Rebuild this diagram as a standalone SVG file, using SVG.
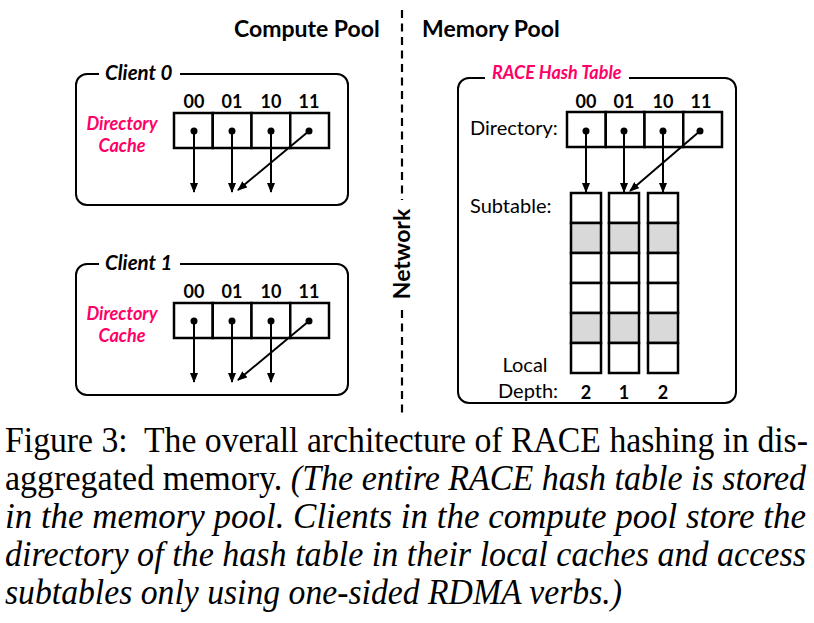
<svg xmlns="http://www.w3.org/2000/svg" width="814" height="623" viewBox="0 0 814 623">
<style>
.box{fill:#fff;stroke:#000;stroke-width:2}
.cell{fill:#fff;stroke:#000;stroke-width:2.5}
.gray{fill:#d9d9d9;stroke:#000;stroke-width:2.5}
.arr{stroke:#000;stroke-width:2;fill:none;marker-end:url(#ah)}
.dot{fill:#000}
.hd{font-family:Lato,"Open Sans",sans-serif;font-weight:bold;font-size:23px;fill:#000}
.ttl{font-family:Lato,"Open Sans",sans-serif;font-weight:bold;font-style:italic;font-size:20.5px;fill:#000}
.pink{font-family:Lato,"Open Sans",sans-serif;font-weight:bold;font-style:italic;font-size:18px;fill:#FF0066}
.bits{font-family:Lato,"Open Sans",sans-serif;font-weight:bold;font-size:18px;fill:#000;text-anchor:middle}
.lbl{font-family:Lato,"Open Sans",sans-serif;font-size:20px;fill:#000}
.cap{font-family:"Liberation Serif","Times New Roman",serif;font-size:36px;fill:#000;white-space:pre}
.it{font-style:italic}
</style>
<defs>
<marker id="ah" markerUnits="userSpaceOnUse" markerWidth="10" markerHeight="8" refX="9" refY="4" orient="auto">
<path d="M0,0 L10,4 L0,8 z" fill="#000"/>
</marker>
</defs>

<g id="headers">
<text class="hd" x="234" y="37">Compute Pool</text>
<text class="hd" x="422" y="37">Memory Pool</text>
</g>

<g id="network">
<line x1="402" y1="10" x2="402" y2="200" stroke="#000" stroke-width="2.2" stroke-dasharray="8,5.5"/>
<line x1="402" y1="310" x2="402" y2="413" stroke="#000" stroke-width="2.2" stroke-dasharray="8,5.5"/>
<text class="hd" font-size="22" text-anchor="middle" transform="translate(410,254) rotate(-90)">Network</text>
</g>

<g id="client0">
<rect class="box" x="76" y="74" width="272" height="131" rx="11"/>
<rect x="99" y="64" width="81" height="18" fill="#fff"/>
<text class="ttl" x="105" y="80">Client 0</text>
<text class="pink" x="122" y="130" text-anchor="middle">Directory</text>
<text class="pink" x="122" y="152" text-anchor="middle">Cache</text>
<text class="bits" x="194" y="108">00</text>
<text class="bits" x="232" y="108">01</text>
<text class="bits" x="271" y="108">10</text>
<text class="bits" x="309" y="108">11</text>
<rect class="cell" x="174" y="113" width="38.75" height="35"/>
<rect class="cell" x="212.75" y="113" width="38.75" height="35"/>
<rect class="cell" x="251.5" y="113" width="38.75" height="35"/>
<rect class="cell" x="290.25" y="113" width="38.75" height="35"/>
<circle class="dot" cx="194" cy="131" r="3.5"/>
<circle class="dot" cx="232" cy="131" r="3.5"/>
<circle class="dot" cx="271" cy="131" r="3.5"/>
<circle class="dot" cx="309" cy="131" r="3.5"/>
</g>

<g id="client1">
<rect class="box" x="76" y="264" width="272" height="131" rx="11"/>
<rect x="99" y="254" width="81" height="18" fill="#fff"/>
<text class="ttl" x="105" y="270">Client 1</text>
<text class="pink" x="122" y="320" text-anchor="middle">Directory</text>
<text class="pink" x="122" y="342" text-anchor="middle">Cache</text>
<text class="bits" x="194" y="298">00</text>
<text class="bits" x="232" y="298">01</text>
<text class="bits" x="271" y="298">10</text>
<text class="bits" x="309" y="298">11</text>
<rect class="cell" x="174" y="303" width="38.75" height="35"/>
<rect class="cell" x="212.75" y="303" width="38.75" height="35"/>
<rect class="cell" x="251.5" y="303" width="38.75" height="35"/>
<rect class="cell" x="290.25" y="303" width="38.75" height="35"/>
<circle class="dot" cx="194" cy="321" r="3.5"/>
<circle class="dot" cx="232" cy="321" r="3.5"/>
<circle class="dot" cx="271" cy="321" r="3.5"/>
<circle class="dot" cx="309" cy="321" r="3.5"/>
</g>

<g id="race-hash-table">
<rect class="box" x="458" y="78" width="278" height="325" rx="11"/>
<rect x="485" y="66" width="144" height="20" fill="#fff"/>
<text class="pink" x="492" y="79">RACE Hash Table</text>
<text class="lbl" x="470" y="135">Directory:</text>
<text class="bits" x="586" y="108">00</text>
<text class="bits" x="624" y="108">01</text>
<text class="bits" x="663" y="108">10</text>
<text class="bits" x="701" y="108">11</text>
<rect class="cell" x="567" y="112" width="38.75" height="35"/>
<rect class="cell" x="605.75" y="112" width="38.75" height="35"/>
<rect class="cell" x="644.5" y="112" width="38.75" height="35"/>
<rect class="cell" x="683.25" y="112" width="38.75" height="35"/>
<circle class="dot" cx="586" cy="131" r="3.5"/>
<circle class="dot" cx="624" cy="131" r="3.5"/>
<circle class="dot" cx="663" cy="131" r="3.5"/>
<circle class="dot" cx="700" cy="131" r="3.5"/>
<text class="lbl" x="470" y="213">Subtable:</text>
<g id="subtable0">
<rect class="cell" x="571" y="193" width="30" height="30"/>
<rect class="gray" x="571" y="223" width="30" height="30"/>
<rect class="cell" x="571" y="253" width="30" height="30"/>
<rect class="cell" x="571" y="283" width="30" height="30"/>
<rect class="gray" x="571" y="313" width="30" height="30"/>
<rect class="cell" x="571" y="343" width="30" height="30"/>
</g>
<g id="subtable1">
<rect class="cell" x="609" y="193" width="30" height="30"/>
<rect class="gray" x="609" y="223" width="30" height="30"/>
<rect class="cell" x="609" y="253" width="30" height="30"/>
<rect class="cell" x="609" y="283" width="30" height="30"/>
<rect class="gray" x="609" y="313" width="30" height="30"/>
<rect class="cell" x="609" y="343" width="30" height="30"/>
</g>
<g id="subtable2">
<rect class="cell" x="648" y="193" width="30" height="30"/>
<rect class="gray" x="648" y="223" width="30" height="30"/>
<rect class="cell" x="648" y="253" width="30" height="30"/>
<rect class="cell" x="648" y="283" width="30" height="30"/>
<rect class="gray" x="648" y="313" width="30" height="30"/>
<rect class="cell" x="648" y="343" width="30" height="30"/>
</g>
<text class="lbl" x="525" y="372" text-anchor="middle">Local</text>
<text class="lbl" x="498" y="398">Depth:</text>
<text class="bits" font-size="20" x="586" y="399">2</text>
<text class="bits" font-size="20" x="624" y="399">1</text>
<text class="bits" font-size="20" x="663" y="399">2</text>
</g>

<g id="connectors">
<line class="arr" x1="194" y1="131" x2="194" y2="192"/>
<line class="arr" x1="232" y1="131" x2="232" y2="192"/>
<line class="arr" x1="271" y1="131" x2="271" y2="192"/>
<line class="arr" x1="309" y1="131" x2="238" y2="190"/>
<line class="arr" x1="194" y1="321" x2="194" y2="382"/>
<line class="arr" x1="232" y1="321" x2="232" y2="382"/>
<line class="arr" x1="271" y1="321" x2="271" y2="382"/>
<line class="arr" x1="309" y1="321" x2="238" y2="380"/>
<line class="arr" x1="586" y1="131" x2="586" y2="192"/>
<line class="arr" x1="624" y1="131" x2="624" y2="192"/>
<line class="arr" x1="663" y1="131" x2="663" y2="192"/>
<line class="arr" x1="700" y1="131" x2="630" y2="191"/>
</g>

<g id="caption" transform="translate(5,0) scale(0.86,1)">
<text class="cap" x="0" y="452" textLength="933.7" lengthAdjust="spacingAndGlyphs">Figure 3:  The overall architecture of RACE hashing in dis-</text>
<text class="cap" x="0" y="490" textLength="931.4" lengthAdjust="spacingAndGlyphs">aggregated memory. <tspan class="it">(The entire RACE hash table is stored</tspan></text>
<text class="cap it" x="0" y="528" textLength="931.4" lengthAdjust="spacingAndGlyphs">in the memory pool. Clients in the compute pool store the</text>
<text class="cap it" x="0" y="566" textLength="931.4" lengthAdjust="spacingAndGlyphs">directory of the hash table in their local caches and access</text>
<text class="cap it" x="0" y="604" textLength="717.4" lengthAdjust="spacingAndGlyphs">subtables only using one-sided RDMA verbs.)</text>
</g>
</svg>
